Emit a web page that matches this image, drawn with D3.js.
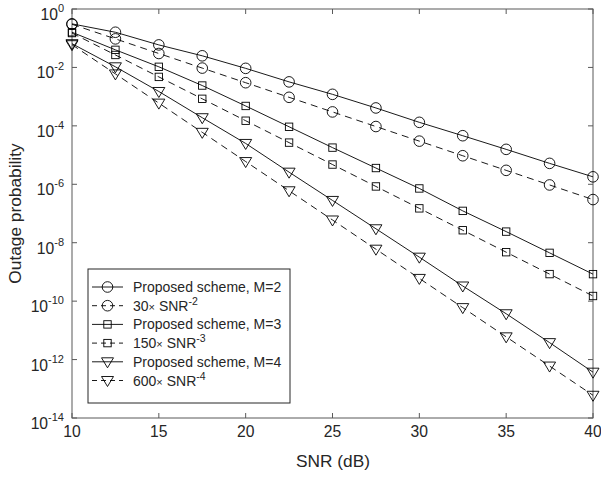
<!DOCTYPE html>
<html>
<head>
<meta charset="utf-8">
<script src="https://cdn.jsdelivr.net/npm/d3@7"></script>
<style>
  body { margin: 0; background: #fff; }
  svg { display: block; font-family: "Liberation Sans", Arial, Helvetica, sans-serif; }
</style>
</head>
<body>
<svg id="chart" width="601" height="477"></svg>
<script>
// ---- data ----
const snrDb = [10, 12.5, 15, 17.5, 20, 22.5, 25, 27.5, 30, 32.5, 35, 37.5, 40];
const propM2 = [0.31, 0.16, 0.059, 0.025, 9.3e-3, 3.2e-3, 1.2e-3, 4.1e-4, 1.32e-4, 4.6e-5, 1.57e-5, 5.2e-6, 1.8e-6];
const asym2  = [0.3, 0.0949, 0.03, 9.49e-3, 3e-3, 9.49e-4, 3e-4, 9.49e-5, 3e-5, 9.49e-6, 3e-6, 9.49e-7, 3e-7];
const propM3 = [0.16, 0.04, 0.0105, 2.4e-3, 4.8e-4, 9.3e-5, 1.8e-5, 3.6e-6, 7.2e-7, 1.23e-7, 2.4e-8, 4.5e-9, 8.4e-10];
const asym3  = [0.15, 0.0267, 4.74e-3, 8.43e-4, 1.5e-4, 2.67e-5, 4.74e-6, 8.43e-7, 1.5e-7, 2.67e-8, 4.74e-9, 8.43e-10, 1.5e-10];
const propM4 = [0.065, 0.0105, 1.5e-3, 1.9e-4, 2.5e-5, 2.6e-6, 2.8e-7, 3e-8, 3.2e-9, 3.3e-10, 3.7e-11, 3.8e-12, 3.7e-13];
const asym4  = [0.06, 6e-3, 6e-4, 6e-5, 6e-6, 6e-7, 6e-8, 6e-9, 6e-10, 6e-11, 6e-12, 6e-13, 6e-14];

const xTicks = [10, 15, 20, 25, 30, 35, 40];
const yTickExps = [0, -2, -4, -6, -8, -10, -12, -14];

const seriesNames = ["Proposed scheme, M=2", "30× SNR^-2", "Proposed scheme, M=3", "150× SNR^-3", "Proposed scheme, M=4", "600× SNR^-4"];
const seriesValues = [propM2, asym2, propM3, asym3, propM4, asym4];
const seriesMarkers = ["circle", "circle", "square", "square", "tri", "tri"];
const seriesDashed = [false, true, false, true, false, true];

// ---- layout ----
const svg = d3.select("#chart");
const L = 72, R = 593, T = 9, B = 418;
const x = d3.scaleLinear().domain([10, 40]).range([L, R]);
const y = d3.scaleLog().domain([1e-14, 1]).range([B, T]);
const axisColor = "#595959";
const textColor = "#262626";
const tickFont = 15.7, labelFont = 17.3;

const g = svg.append("g");
const tickLen = 5;
xTicks.forEach(v => {
  const xp = x(v);
  g.append("line").attr("x1", xp).attr("x2", xp).attr("y1", B).attr("y2", B - tickLen).attr("stroke", axisColor).attr("stroke-width", 1);
  g.append("line").attr("x1", xp).attr("x2", xp).attr("y1", T).attr("y2", T + tickLen).attr("stroke", axisColor).attr("stroke-width", 1);
  g.append("text").attr("x", xp).attr("y", 437).attr("text-anchor", "middle")
    .attr("font-size", tickFont).attr("fill", textColor).text(v);
});
yTickExps.forEach(e => {
  const yp = y(Math.pow(10, e));
  g.append("line").attr("x1", L).attr("x2", L + tickLen).attr("y1", yp).attr("y2", yp).attr("stroke", axisColor).attr("stroke-width", 1);
  g.append("line").attr("x1", R).attr("x2", R - tickLen).attr("y1", yp).attr("y2", yp).attr("stroke", axisColor).attr("stroke-width", 1);
  const t = g.append("text").attr("x", 64).attr("y", yp + 11).attr("text-anchor", "end")
    .attr("font-size", tickFont).attr("fill", textColor);
  t.append("tspan").text("10");
  t.append("tspan").attr("dy", -8).attr("font-size", 11).text(String(e));
});

g.append("rect").attr("x", L).attr("y", T).attr("width", R - L).attr("height", B - T)
  .attr("fill", "none").attr("stroke", axisColor).attr("stroke-width", 1);

// axis labels
svg.append("text").attr("x", 333).attr("y", 467).attr("text-anchor", "middle")
  .attr("font-size", labelFont).attr("fill", textColor).text("SNR (dB)");
svg.append("text").attr("transform", `translate(21,${(T + B) / 2}) rotate(-90)`)
  .attr("text-anchor", "middle").attr("font-size", labelFont).attr("fill", textColor).text("Outage probability");

function drawMarker(sel, type, cx, cy) {
  if (type === "circle") {
    sel.append("circle").attr("cx", cx).attr("cy", cy).attr("r", 5.3)
      .attr("fill", "none").attr("stroke", "#000").attr("stroke-width", 0.9);
  } else if (type === "square") {
    sel.append("rect").attr("x", cx - 3.7).attr("y", cy - 3.7).attr("width", 7.4).attr("height", 7.4)
      .attr("fill", "none").attr("stroke", "#000").attr("stroke-width", 0.9);
  } else {
    sel.append("path").attr("d", `M${cx - 6},${cy - 4}L${cx + 6},${cy - 4}L${cx},${cy + 6}Z`)
      .attr("fill", "none").attr("stroke", "#000").attr("stroke-width", 0.9);
  }
}

const line = d3.line().x(d => x(d[0])).y(d => y(d[1]));
const plot = svg.append("g");
seriesValues.forEach((vals, i) => {
  const pts = snrDb.map((s, j) => [s, vals[j]]);
  plot.append("path").attr("d", line(pts)).attr("fill", "none").attr("stroke", "#000")
    .attr("stroke-width", 0.9).attr("stroke-dasharray", seriesDashed[i] ? "7,5" : null);
  pts.forEach(p => drawMarker(plot, seriesMarkers[i], x(p[0]), y(p[1])));
});

// legend
const lg = svg.append("g");
const lgX = 88, lgY = 269, lgW = 202, lgH = 134;
lg.append("rect").attr("x", lgX).attr("y", lgY).attr("width", lgW).attr("height", lgH)
  .attr("fill", "#fff").attr("stroke", "#262626").attr("stroke-width", 1);
const rowY0 = 287, rowDy = 18.7;
seriesNames.forEach((name, i) => {
  const ry = rowY0 + i * rowDy;
  lg.append("line").attr("x1", 92).attr("x2", 123).attr("y1", ry).attr("y2", ry)
    .attr("stroke", "#000").attr("stroke-width", 0.9)
    .attr("stroke-dasharray", seriesDashed[i] ? "5,4" : null);
  drawMarker(lg, seriesMarkers[i], 107.5, ry);
  const t = lg.append("text").attr("x", 133).attr("y", ry + 5).attr("font-size", 14).attr("fill", textColor);
  const parts = name.split("^");
  if (parts.length === 2) {
    const m = parts[0].split("×");
    t.append("tspan").text(m[0]);
    t.append("tspan").attr("font-size", 11).text("×");
    t.append("tspan").text(m[1]);
    t.append("tspan").attr("dy", -6).attr("font-size", 10.5).text(parts[1]);
  } else {
    t.text(name);
  }
});
</script>
</body>
</html>
